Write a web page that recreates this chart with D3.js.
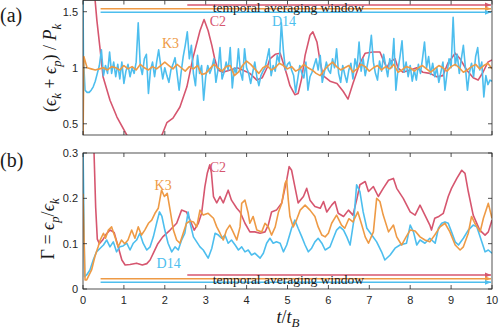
<!DOCTYPE html>
<html><head><meta charset="utf-8">
<script src="https://cdn.jsdelivr.net/npm/d3@7"></script>
<style>body{margin:0;background:#fff}</style>
</head><body><svg id="c" width="500" height="329"></svg>
<script>
// ---------- data ----------
const xTicks = [0,1,2,3,4,5,6,7,8,9,10];
const topYTicks = [0.5, 1, 1.5];
const topYLabels = ["0.5", "1", "1.5"];
const botYTicks = [0, 0.1, 0.2, 0.3];
const botYLabels = ["0", "0.1", "0.2", "0.3"];
const seriesNames = ["C2", "K3", "D14"];
const seriesColors = ["#d6566f", "#ee9a45", "#4dbeee"];
const windowStart = [2.55, 0.43, 0.43];   // start of temporal averaging window (t/tB)

// Panel (a): (eps_k+eps_p)/P_k
const c2TopT = [0.20,0.34,0.42,0.49,0.66,0.83,1.07,1.2,1.5,1.8,1.93,2.05,2.2,2.37,2.54,2.69,2.86,2.96,3.06,3.15,3.22,3.3,3.42,3.6,3.77,3.9,4.08,4.25,4.38,4.5,4.57,4.7,4.82,4.89,4.99,5.06,5.18,5.26,5.35,5.43,5.55,5.62,5.72,5.8,5.87,6.04,6.21,6.36,6.48,6.6,6.77,6.9,7.09,7.26,7.34,7.43,7.5,7.63,7.7,7.82,8.0,8.16,8.31,8.48,8.65,8.8,8.92,9.02,9.1,9.22,9.38,9.54,9.66,9.78,9.9,10];
const c2TopV = [2.0,1.42,1.16,0.92,0.71,0.56,0.40,0.33,0.28,0.33,0.40,0.51,0.55,0.65,0.83,1.09,1.33,1.43,1.33,1.2,1.08,0.98,0.96,0.98,1.0,0.98,0.95,0.89,0.91,1.0,1.08,1.12,1.13,1.05,0.93,0.84,0.76,0.77,0.91,1.11,1.29,1.32,1.23,1.05,0.93,0.88,0.86,0.79,0.72,0.86,1.04,1.13,1.14,1.14,1.07,1.0,1.05,1.08,1.0,0.96,0.98,1.0,0.96,0.95,0.92,0.93,1.04,1.09,1.13,1.08,0.98,0.91,0.89,0.96,1.05,1.07];

const k3TopHeadT = [0, 0.02];
const k3TopHeadV = [0.3, 1.1];
const k3TopV = [ // t = 0.1 ... 10, step 0.1
 1.00,0.99,0.98,0.99,1.00,0.98,1.01,1.00,0.98,1.02,
 0.99,1.01,0.98,1.03,1.00,0.98,1.01,0.99,1.02,1.05,
 1.02,0.99,1.03,1.00,0.97,1.01,0.99,1.02,0.94,0.95,
 0.99,1.03,1.00,0.97,1.01,1.02,0.93,0.96,1.02,1.06,
 1.03,0.99,0.95,1.00,1.02,0.98,1.00,1.04,1.02,0.99,
 1.01,0.97,0.99,1.03,1.00,0.98,0.95,0.93,0.98,1.02,
 1.05,1.01,0.98,1.00,1.02,0.96,0.99,1.03,1.01,0.97,
 1.00,1.02,0.98,1.01,0.99,1.03,0.96,0.98,1.01,1.00,
 0.97,1.00,1.02,0.99,0.96,0.99,1.02,1.00,0.97,1.01,
 1.03,1.00,0.96,0.98,1.01,1.03,0.99,1.02,1.04,0.99];

const d14TopHeadT = [0, 0.01];
const d14TopHeadV = [1.7, 1.1];
const d14TopV = [ // t = 0.05 ... 10, step 0.05
 0.80,0.78,0.78,0.80,0.83,0.88,0.95,1.02,1.16,0.93, 1.02,0.95,1.14,0.95,1.05,0.92,1.03,0.90,1.05,0.86,
 0.97,1.03,0.92,1.00,0.95,1.05,1.40,1.02,0.94,1.08, 1.12,0.77,0.98,1.05,0.92,1.05,1.16,1.02,0.90,1.00,
 0.93,0.87,0.98,1.03,1.09,0.95,0.80,0.96,1.10,1.20, 1.32,1.08,1.20,0.95,0.84,1.11,0.95,1.02,0.71,0.92,
 1.02,0.95,1.00,1.08,0.87,0.98,1.18,0.90,0.96,1.05, 0.98,1.18,0.82,1.00,0.95,1.17,0.96,0.89,1.17,1.00,
 0.95,0.86,0.96,1.05,0.92,0.84,0.93,0.97,1.00,1.08, 1.17,0.93,1.02,0.97,1.11,1.05,1.40,1.15,0.98,1.03,
 1.05,0.98,0.93,0.78,0.90,1.02,0.95,0.91,1.05,0.80, 0.92,0.96,1.02,1.08,0.98,1.11,0.87,0.96,1.05,0.98,
 0.95,1.08,1.00,1.17,0.95,0.87,1.02,0.94,0.87,0.98, 1.04,0.90,1.08,1.00,1.23,0.97,1.08,0.93,1.02,1.12,
 1.29,1.05,0.95,0.89,1.06,0.97,1.12,1.02,0.92,1.08, 1.00,1.26,0.80,0.98,1.10,1.24,0.96,1.05,0.92,1.02,
 0.88,0.98,0.89,1.03,0.95,1.08,1.23,1.00,1.10,0.94, 1.04,0.92,1.00,0.87,0.96,1.05,0.80,0.95,1.08,1.00,
 1.45,1.02,1.12,0.95,1.08,1.20,1.00,0.80,0.96,1.04, 0.92,1.10,1.18,0.98,1.05,0.74,0.93,0.85,0.89,0.88];

// Panel (b): Gamma = eps_p/eps_k
const c2BotT = [0.20,0.27,0.31,0.35,0.40,0.48,0.56,0.66,0.76,0.86,0.95,1.03,1.15,1.31,1.45,1.56,1.64,1.72,1.83,1.95,2.13,2.29,2.41,2.53,2.65,2.72,2.82,2.90,2.98,3.04,3.10,3.14,3.19,3.27,3.35,3.43,3.55,3.63,3.76,3.84,3.96,4.08,4.20,4.33,4.45,4.53,4.61,4.73,4.86,4.98,5.04,5.10,5.18,5.26,5.39,5.47,5.55,5.67,5.80,5.88,5.96,6.08,6.16,6.24,6.37,6.49,6.60,6.70,6.77,6.90,6.98,7.10,7.22,7.34,7.47,7.59,7.67,7.83,8.00,8.12,8.24,8.36,8.48,8.52,8.60,8.70,8.81,8.93,9.01,9.14,9.26,9.34,9.42,9.54,9.70,9.83,9.91,10.0];
const c2BotV = [0.50,0.30,0.18,0.11,0.10,0.108,0.12,0.13,0.125,0.093,0.064,0.053,0.054,0.057,0.053,0.056,0.064,0.079,0.10,0.115,0.13,0.145,0.174,0.17,0.145,0.13,0.145,0.167,0.226,0.256,0.274,0.256,0.204,0.19,0.204,0.19,0.218,0.196,0.178,0.17,0.145,0.126,0.126,0.123,0.126,0.141,0.17,0.174,0.19,0.24,0.27,0.262,0.226,0.19,0.204,0.222,0.196,0.182,0.178,0.193,0.17,0.185,0.193,0.167,0.16,0.174,0.163,0.20,0.23,0.237,0.215,0.226,0.204,0.222,0.24,0.244,0.222,0.20,0.17,0.163,0.185,0.163,0.141,0.13,0.156,0.16,0.167,0.204,0.222,0.244,0.262,0.255,0.215,0.163,0.13,0.119,0.126,0.152];

const k3BotT = [0.00,0.05,0.09,0.21,0.29,0.37,0.42,0.50,0.55,0.62,0.70,0.78,0.86,0.94,1.02,1.10,1.19,1.27,1.35,1.43,1.51,1.60,1.68,1.76,1.84,1.92,1.99,2.06,2.13,2.21,2.29,2.37,2.45,2.53,2.62,2.70,2.78,2.86,2.94,3.06,3.19,3.27,3.35,3.43,3.51,3.59,3.67,3.76,3.84,3.88,3.96,4.04,4.08,4.16,4.25,4.37,4.45,4.53,4.61,4.70,4.78,4.86,4.94,4.98,5.02,5.06,5.14,5.22,5.31,5.43,5.55,5.67,5.75,5.84,5.92,6.00,6.08,6.20,6.32,6.40,6.50,6.60,6.72,6.82,6.90,6.98,7.10,7.18,7.26,7.34,7.47,7.59,7.67,7.79,7.90,8.00,8.12,8.24,8.36,8.48,8.60,8.73,8.85,8.97,9.10,9.22,9.30,9.42,9.50,9.58,9.71,9.79,9.91,10.0];
const k3BotV = [0.21,0.02,0.02,0.042,0.071,0.093,0.108,0.123,0.112,0.13,0.137,0.115,0.093,0.108,0.10,0.108,0.13,0.112,0.137,0.119,0.13,0.145,0.152,0.167,0.178,0.218,0.204,0.211,0.174,0.13,0.108,0.101,0.123,0.145,0.15,0.148,0.137,0.174,0.163,0.167,0.156,0.137,0.123,0.108,0.13,0.141,0.126,0.108,0.137,0.189,0.196,0.167,0.145,0.16,0.13,0.126,0.145,0.137,0.119,0.137,0.17,0.189,0.233,0.24,0.196,0.16,0.137,0.152,0.174,0.185,0.174,0.16,0.137,0.119,0.115,0.123,0.145,0.163,0.141,0.134,0.155,0.148,0.17,0.14,0.115,0.101,0.126,0.20,0.193,0.163,0.126,0.141,0.115,0.097,0.115,0.13,0.128,0.115,0.108,0.104,0.119,0.137,0.145,0.126,0.097,0.086,0.093,0.123,0.16,0.145,0.126,0.156,0.189,0.156];

const d14BotT = [0.00,0.04,0.09,0.17,0.25,0.33,0.42,0.50,0.58,0.66,0.74,0.82,0.90,0.98,1.07,1.15,1.23,1.31,1.39,1.47,1.56,1.64,1.72,1.80,1.87,1.93,2.00,2.08,2.17,2.25,2.33,2.41,2.49,2.57,2.62,2.70,2.78,2.86,2.94,3.06,3.15,3.23,3.31,3.39,3.47,3.55,3.63,3.72,3.80,3.88,3.96,4.04,4.12,4.20,4.33,4.41,4.49,4.57,4.65,4.73,4.82,4.90,4.98,5.10,5.18,5.26,5.35,5.43,5.51,5.59,5.67,5.75,5.84,5.92,6.04,6.12,6.20,6.28,6.37,6.45,6.53,6.62,6.69,6.77,6.85,6.94,7.06,7.18,7.30,7.38,7.51,7.63,7.75,7.91,8.00,8.08,8.16,8.24,8.36,8.48,8.61,8.69,8.77,8.85,8.93,9.01,9.10,9.18,9.30,9.42,9.54,9.63,9.75,9.83,9.91,10.0];
const d14BotV = [0.32,0.027,0.031,0.042,0.064,0.082,0.09,0.097,0.108,0.093,0.104,0.082,0.093,0.095,0.101,0.086,0.101,0.108,0.123,0.101,0.086,0.093,0.115,0.145,0.17,0.16,0.13,0.101,0.082,0.093,0.086,0.108,0.123,0.17,0.145,0.115,0.104,0.093,0.086,0.068,0.09,0.123,0.119,0.112,0.119,0.101,0.108,0.097,0.086,0.093,0.082,0.086,0.075,0.079,0.068,0.079,0.101,0.112,0.101,0.104,0.101,0.082,0.097,0.134,0.152,0.134,0.115,0.097,0.082,0.09,0.104,0.112,0.101,0.086,0.093,0.112,0.13,0.137,0.13,0.115,0.097,0.15,0.23,0.215,0.17,0.134,0.119,0.104,0.082,0.064,0.075,0.09,0.097,0.101,0.141,0.126,0.097,0.108,0.101,0.112,0.101,0.134,0.145,0.148,0.145,0.126,0.104,0.097,0.112,0.13,0.141,0.137,0.104,0.082,0.086,0.079];

// ---------- drawing ----------
const svg = d3.select("#c");
const axisColor = "#262626";
const x = d3.scaleLinear([0, 10], [83, 492]);
const yTop = d3.scaleLinear([0.4, 1.6], [135, 0.5]);
const yBot = d3.scaleLinear([0, 0.3], [289, 153]);

const defs = svg.append("defs");
[["clipTop", yTop], ["clipBot", yBot]].forEach(([id, y]) => {
  defs.append("clipPath").attr("id", id).append("rect")
    .attr("x", x(0)).attr("y", y.range()[1])
    .attr("width", x(10) - x(0)).attr("height", y.range()[0] - y.range()[1]);
});
seriesColors.forEach((c, i) => {
  defs.append("marker").attr("id", "arr" + i).attr("viewBox", "0 0 10 10")
    .attr("refX", 10).attr("refY", 5).attr("markerWidth", 4).attr("markerHeight", 4)
    .attr("orient", "auto").append("path").attr("d", "M0,1L10,5L0,9z").attr("fill", c);
});

function zip(T, V) { return T.map((t, i) => [t, V[i]]); }
const d14TopT = d3.range(1, d14TopV.length + 1).map(i => i * 0.05);
const k3TopT = d3.range(1, k3TopV.length + 1).map(i => i * 0.1);

const topData = [
  zip(c2TopT, c2TopV),
  zip(k3TopHeadT, k3TopHeadV).concat(zip(k3TopT, k3TopV)),
  zip(d14TopHeadT, d14TopHeadV).concat(zip(d14TopT, d14TopV))
];
const botData = [zip(c2BotT, c2BotV), zip(k3BotT, k3BotV), zip(d14BotT, d14BotV)];

function panel(y, data, clipId, yTicks, yLabels, showX, winY, textY) {
  const g = svg.append("g");
  const line = d3.line().x(d => x(d[0])).y(d => y(d[1]));
  const order = [0, 2, 1];
  const lg = g.append("g").attr("clip-path", `url(#${clipId})`);
  order.forEach(i => {
    lg.append("path").datum(data[i]).attr("d", line).attr("fill", "none")
      .attr("stroke", seriesColors[i]).attr("stroke-width", 1.6).attr("stroke-linejoin", "round");
  });
  // averaging window lines
  seriesColors.forEach((c, i) => {
    g.append("line").attr("x1", x(windowStart[i])).attr("x2", x(10) - 1)
      .attr("y1", winY[i]).attr("y2", winY[i]).attr("stroke", c).attr("stroke-width", 1.6)
      .attr("marker-end", `url(#arr${i})`);
  });
  g.append("text").attr("x", x(3.17)).attr("y", textY)
    .attr("font-family", "'Liberation Serif', serif").attr("font-size", 13.5)
    .attr("fill", "#1a1a1a").text("temporal averaging window");
  // box
  const [y0, y1] = y.range();
  g.append("rect").attr("x", x(0)).attr("y", y1).attr("width", x(10) - x(0)).attr("height", y0 - y1)
    .attr("fill", "none").attr("stroke", axisColor).attr("stroke-width", 0.8);
  // ticks inward
  xTicks.forEach(t => {
    g.append("line").attr("x1", x(t)).attr("x2", x(t)).attr("y1", y0).attr("y2", y0 - 4).attr("stroke", axisColor).attr("stroke-width", 0.8);
    g.append("line").attr("x1", x(t)).attr("x2", x(t)).attr("y1", y1).attr("y2", y1 + 4).attr("stroke", axisColor).attr("stroke-width", 0.8);
    if (showX) g.append("text").attr("x", x(t)).attr("y", y0 + 15).attr("text-anchor", "middle")
      .attr("font-family", "'Liberation Sans', Arial, sans-serif").attr("font-size", 11).attr("fill", axisColor).text(t);
  });
  yTicks.forEach((v, i) => {
    g.append("line").attr("x1", x(0)).attr("x2", x(0) + 4).attr("y1", y(v)).attr("y2", y(v)).attr("stroke", axisColor).attr("stroke-width", 0.8);
    g.append("line").attr("x1", x(10)).attr("x2", x(10) - 4).attr("y1", y(v)).attr("y2", y(v)).attr("stroke", axisColor).attr("stroke-width", 0.8);
    g.append("text").attr("x", x(0) - 5).attr("y", y(v) + 4).attr("text-anchor", "end")
      .attr("font-family", "'Liberation Sans', Arial, sans-serif").attr("font-size", 11).attr("fill", axisColor).text(yLabels[i]);
  });
  return g;
}

panel(yTop, topData, "clipTop", topYTicks, topYLabels, false, [5, 8.7, 12.3], 12);
panel(yBot, botData, "clipBot", botYTicks, botYLabels, true, [275, 278.7, 282.3], 284);

// series labels
const lblFont = "'Liberation Serif', serif";
function lbl(t, yv, y, i) {
  svg.append("text").attr("x", x(t)).attr("y", y(yv)).attr("font-family", lblFont)
    .attr("font-size", 14).attr("fill", seriesColors[i]).text(seriesNames[i]);
}
lbl(3.1, 1.37, yTop, 0);
lbl(1.93, 1.18, yTop, 1);
lbl(4.62, 1.37, yTop, 2);
lbl(3.1, 0.258, yBot, 0);
lbl(1.75, 0.219, yBot, 1);
lbl(1.8, 0.046, yBot, 2);

// panel labels
svg.append("text").attr("x", 0).attr("y", 22).attr("font-family", lblFont).attr("font-size", 20).attr("fill", "#1a1a1a").text("(a)");
svg.append("text").attr("x", 0).attr("y", 167).attr("font-family", lblFont).attr("font-size", 20).attr("fill", "#1a1a1a").text("(b)");

// y-axis labels
function mathLabel(cx, cy, parts, size) {
  const t = svg.append("text").attr("transform", `translate(${cx},${cy}) rotate(-90)`)
    .attr("text-anchor", "middle").attr("font-family", lblFont).attr("font-size", size).attr("fill", "#1a1a1a");
  parts.forEach(p => {
    const s = t.append("tspan").text(p[0]);
    if (p[1]) s.attr("font-style", "italic");
    if (p[2] === "sub") s.attr("font-size", size * 0.7).attr("dy", size * 0.25);
    if (p[2] === "up") s.attr("dy", -size * 0.25);
  });
}
mathLabel(56, 68, [["(", 0], ["ϵ", 1], ["k", 1, "sub"], [" + ", 0, "up"], ["ϵ", 1], ["p", 1, "sub"], [")", 0, "up"], [" / ", 0], ["P", 1], ["k", 1, "sub"]], 18);
mathLabel(54, 229, [["Γ = ", 0], ["ϵ", 1], ["p", 1, "sub"], ["/", 0, "up"], ["ϵ", 1], ["k", 1, "sub"]], 18);

// x-axis label
const xl = svg.append("text").attr("x", 288).attr("y", 323).attr("text-anchor", "middle")
  .attr("font-family", lblFont).attr("font-size", 18).attr("fill", "#1a1a1a");
xl.append("tspan").attr("font-style", "italic").text("t");
xl.append("tspan").text("/");
xl.append("tspan").attr("font-style", "italic").text("t");
xl.append("tspan").attr("font-style", "italic").attr("font-size", 13).attr("dy", 4).text("B");
</script>
</body></html>
